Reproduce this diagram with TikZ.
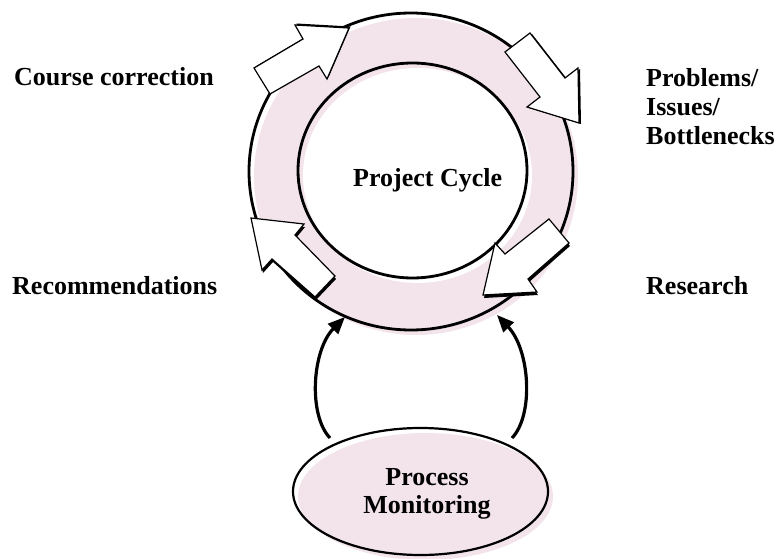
\documentclass[tikz,border=0pt]{standalone}
\usepackage{fontspec}
\setmainfont{Liberation Serif}
\usetikzlibrary{arrows.meta,shapes.geometric}
\definecolor{pinkfill}{RGB}{242,228,234}
\begin{document}
\begin{tikzpicture}[x=1pt,y=-1pt,
  lbl/.style={font=\fontsize{26}{30}\selectfont\bfseries, inner sep=0pt, anchor=base west},
  clbl/.style={font=\fontsize{26}{30}\selectfont\bfseries, inner sep=0pt, anchor=base},
  ringline/.style={draw=black, line width=2.8pt, ellipse, inner sep=0pt},
  blockarrow/.style={draw=black, fill=white, line width=1.2pt, line join=miter},
  blockshadow/.style={fill=black},
  flow/.style={line width=3.2pt, -{Triangle[length=17pt,width=14pt]}}
]
\useasboundingbox (0,0) rectangle (777,559);

% ring shadow
\fill[pinkfill] (416,176.5) ellipse [x radius=162, y radius=158.5];
\fill[white] (417.5,175.5) ellipse [x radius=114.5, y radius=107.5];
\node[ringline, minimum width=324pt, minimum height=317pt] (ring) at (411,171.5) {};
\node[ringline, minimum width=229pt, minimum height=215pt] (core) at (412.5,170.5) {};
\node[lbl] (pc) at (353,187) {Project Cycle};

% block arrows
\fill[blockshadow, shift={(1.5,-1.5)}] (254,68) -- (303,39) -- (295,25) -- (349,28) -- (327,79) -- (319,66) -- (270,94) -- cycle;
\draw[blockarrow] (254,68) -- (303,39) -- (295,25) -- (349,28) -- (327,79) -- (319,66) -- (270,94) -- cycle;

\fill[blockshadow, shift={(2,1)}] (530,33) -- (565,78) -- (578,68) -- (579,123) -- (527,107) -- (540,97) -- (505,52) -- cycle;
\draw[blockarrow] (530,33) -- (565,78) -- (578,68) -- (579,123) -- (527,107) -- (540,97) -- (505,52) -- cycle;

\fill[blockshadow, shift={(1,3)}] (251,218) -- (304,224) -- (295,235) -- (335,276) -- (315,297) -- (272,259) -- (262,270) -- cycle;
\draw[blockarrow] (251,218) -- (304,224) -- (295,235) -- (335,276) -- (315,297) -- (272,259) -- (262,270) -- cycle;

\fill[blockshadow, shift={(1,3)}] (549,219) -- (569,243) -- (528,279) -- (537,292) -- (483,295) -- (495,243) -- (505,254) -- cycle;
\draw[blockarrow] (549,219) -- (569,243) -- (528,279) -- (537,292) -- (483,295) -- (495,243) -- (505,254) -- cycle;

% labels
\node[lbl] (cc) at (14,86) {Course correction};
\node[lbl] (pb1) at (646,87) {Problems/};
\node[lbl] (pb2) at (646,116) {Issues/};
\node[lbl] (pb3) at (646,145) {Bottlenecks};
\node[lbl] (rec) at (12,294) {Recommendations};
\node[lbl] (res) at (646,294) {Research};

% process monitoring
\fill[pinkfill] (425.5,496.5) ellipse [x radius=127.5, y radius=63.5];
\node[draw, line width=2.2pt, ellipse, inner sep=0pt, minimum width=255pt, minimum height=127pt] (pm) at (420.5,491.5) {};
\node[clbl] (pmt1) at (427,485) {Process};
\node[clbl] (pmt2) at (427,513) {Monitoring};

% connectors
\coordinate (l0) at (330,438);
\coordinate (l1) at (345,317);
\coordinate (r0) at (512,438);
\coordinate (r1) at (497,315);
\draw[flow] (l0) .. controls (308,415) and (312,350) .. (l1);
\draw[flow] (r0) .. controls (534,415) and (530,350) .. (r1);
\end{tikzpicture}
\end{document}
